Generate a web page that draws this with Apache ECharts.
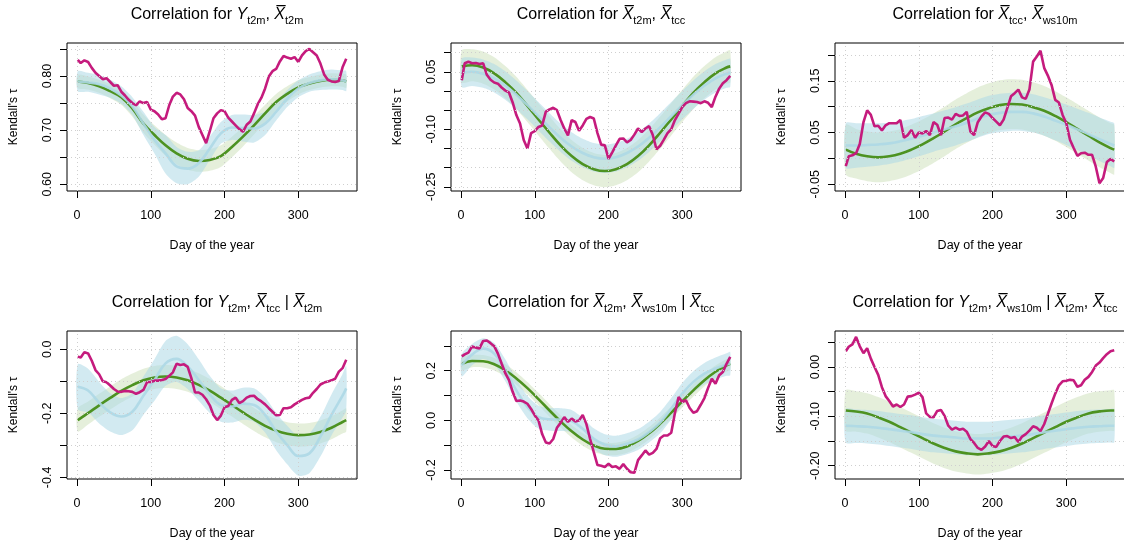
<!DOCTYPE html>
<html lang="en">
<head>
<meta charset="UTF-8">
<title>Kendall's tau over the year</title>
<script src="https://cdn.jsdelivr.net/npm/echarts@6/dist/echarts.min.js"></script>
<style>
html, body { margin: 0; padding: 0; background: #fff; }
#chart { width: 1124px; height: 547px; }
</style>
</head>
<body>
<div id="chart"></div>
<script>
// days where the smooth fits are tabulated
var fitDays = [1, 15, 30, 45, 60, 75, 90, 105, 120, 135, 150, 165, 180, 195, 210, 225, 240, 255, 270, 285, 300, 315, 330, 345, 360, 365];
// days of the empirical (moving window) estimate
var empDays = [1, 5, 10, 15, 20, 25, 30, 35, 40, 45, 50, 55, 60, 65, 70, 75, 80, 85, 90, 95, 100, 105, 110, 115, 120, 125, 130, 135, 140, 145, 150, 155, 160, 165, 170, 175, 180, 185, 190, 195, 200, 205, 210, 215, 220, 225, 230, 235, 240, 245, 250, 255, 260, 265, 270, 275, 280, 285, 290, 295, 300, 305, 310, 315, 320, 325, 330, 335, 340, 345, 350, 355, 360, 365];
var xTicks = [0, 100, 200, 300];

// panel 1: Y_t2m, X_t2m
var emp1 = [0.830, 0.824, 0.829, 0.826, 0.815, 0.806, 0.800, 0.794, 0.796, 0.789, 0.782, 0.783, 0.771, 0.764, 0.756, 0.750, 0.746, 0.753, 0.750, 0.752, 0.738, 0.735, 0.729, 0.720, 0.722, 0.746, 0.762, 0.769, 0.766, 0.757, 0.741, 0.735, 0.727, 0.706, 0.691, 0.676, 0.698, 0.722, 0.731, 0.737, 0.735, 0.723, 0.716, 0.709, 0.702, 0.697, 0.710, 0.716, 0.731, 0.748, 0.760, 0.777, 0.799, 0.809, 0.813, 0.827, 0.837, 0.834, 0.832, 0.835, 0.826, 0.838, 0.846, 0.850, 0.844, 0.838, 0.823, 0.803, 0.793, 0.790, 0.789, 0.791, 0.816, 0.832];
var green1 = [0.790, 0.787, 0.781, 0.772, 0.761, 0.740, 0.712, 0.691, 0.672, 0.657, 0.647, 0.643, 0.645, 0.652, 0.669, 0.688, 0.709, 0.731, 0.752, 0.767, 0.779, 0.786, 0.791, 0.793, 0.792, 0.790];
var greenLo1 = [0.778, 0.775, 0.769, 0.759, 0.747, 0.725, 0.695, 0.673, 0.653, 0.637, 0.627, 0.623, 0.625, 0.632, 0.650, 0.670, 0.692, 0.715, 0.737, 0.753, 0.766, 0.774, 0.779, 0.781, 0.780, 0.778];
var greenHi1 = [0.802, 0.799, 0.793, 0.785, 0.775, 0.755, 0.729, 0.709, 0.691, 0.677, 0.667, 0.663, 0.665, 0.672, 0.688, 0.706, 0.726, 0.747, 0.767, 0.781, 0.792, 0.798, 0.803, 0.805, 0.804, 0.802];
var blue1 = [0.790, 0.788, 0.785, 0.777, 0.764, 0.744, 0.712, 0.682, 0.657, 0.633, 0.629, 0.639, 0.666, 0.694, 0.705, 0.704, 0.703, 0.712, 0.734, 0.758, 0.777, 0.787, 0.792, 0.794, 0.792, 0.790];
var blueLo1 = [0.772, 0.771, 0.766, 0.760, 0.749, 0.728, 0.691, 0.657, 0.620, 0.602, 0.600, 0.614, 0.645, 0.675, 0.682, 0.679, 0.677, 0.691, 0.718, 0.743, 0.761, 0.771, 0.774, 0.775, 0.774, 0.772];
var blueHi1 = [0.809, 0.806, 0.802, 0.793, 0.781, 0.761, 0.734, 0.706, 0.691, 0.669, 0.660, 0.663, 0.688, 0.715, 0.728, 0.729, 0.728, 0.734, 0.752, 0.774, 0.792, 0.803, 0.809, 0.812, 0.810, 0.809];

// panel 2: X_t2m, X_tcc
var emp2 = [0.028, 0.072, 0.076, 0.072, 0.073, 0.070, 0.072, 0.042, 0.029, 0.022, 0.019, 0.009, 0.001, -0.004, -0.030, -0.063, -0.085, -0.128, -0.150, -0.110, -0.105, -0.094, -0.090, -0.054, -0.048, -0.044, -0.050, -0.076, -0.098, -0.116, -0.076, -0.081, -0.104, -0.090, -0.073, -0.068, -0.072, -0.110, -0.140, -0.142, -0.177, -0.160, -0.142, -0.125, -0.124, -0.134, -0.128, -0.114, -0.098, -0.107, -0.098, -0.092, -0.115, -0.152, -0.143, -0.127, -0.110, -0.100, -0.076, -0.059, -0.042, -0.032, -0.027, -0.028, -0.029, -0.032, -0.027, -0.031, -0.042, -0.015, 0.006, 0.020, 0.028, 0.039];
var green2 = [0.064, 0.067, 0.061, 0.046, 0.023, -0.005, -0.039, -0.074, -0.109, -0.142, -0.170, -0.191, -0.204, -0.209, -0.204, -0.191, -0.170, -0.142, -0.109, -0.074, -0.039, -0.005, 0.023, 0.046, 0.061, 0.064];
var greenLo2 = [0.022, 0.025, 0.019, 0.004, -0.019, -0.047, -0.081, -0.116, -0.151, -0.184, -0.212, -0.233, -0.246, -0.251, -0.246, -0.233, -0.212, -0.184, -0.151, -0.116, -0.081, -0.047, -0.019, 0.004, 0.019, 0.022];
var greenHi2 = [0.106, 0.109, 0.103, 0.088, 0.065, 0.037, 0.003, -0.032, -0.067, -0.100, -0.128, -0.149, -0.162, -0.167, -0.162, -0.149, -0.128, -0.100, -0.067, -0.032, 0.003, 0.037, 0.065, 0.088, 0.103, 0.106];
var blue2 = [0.047, 0.050, 0.045, 0.033, 0.014, -0.010, -0.037, -0.066, -0.095, -0.122, -0.145, -0.162, -0.173, -0.177, -0.173, -0.162, -0.145, -0.122, -0.095, -0.066, -0.037, -0.010, 0.014, 0.033, 0.045, 0.047];
var blueLo2 = [0.010, 0.013, 0.008, -0.004, -0.023, -0.047, -0.074, -0.103, -0.132, -0.159, -0.182, -0.199, -0.210, -0.214, -0.210, -0.199, -0.182, -0.159, -0.132, -0.103, -0.074, -0.047, -0.023, -0.004, 0.008, 0.010];
var blueHi2 = [0.084, 0.087, 0.082, 0.070, 0.051, 0.027, 0.000, -0.029, -0.058, -0.085, -0.108, -0.125, -0.136, -0.140, -0.136, -0.125, -0.108, -0.085, -0.058, -0.029, 0.000, 0.027, 0.051, 0.070, 0.082, 0.084];

// panel 3: X_tcc, X_ws10m
var emp3 = [-0.015, 0.004, 0.006, 0.010, 0.028, 0.070, 0.093, 0.084, 0.062, 0.063, 0.054, 0.064, 0.068, 0.068, 0.068, 0.074, 0.040, 0.045, 0.055, 0.040, 0.050, 0.048, 0.053, 0.045, 0.070, 0.065, 0.045, 0.078, 0.079, 0.075, 0.086, 0.082, 0.083, 0.090, 0.052, 0.045, 0.070, 0.081, 0.089, 0.086, 0.078, 0.071, 0.064, 0.075, 0.097, 0.120, 0.126, 0.133, 0.118, 0.115, 0.133, 0.187, 0.197, 0.208, 0.175, 0.160, 0.142, 0.113, 0.108, 0.084, 0.068, 0.036, 0.020, 0.005, 0.010, 0.011, 0.007, 0.007, -0.016, -0.048, -0.038, -0.007, -0.001, -0.006];
var green3 = [0.017, 0.009, 0.004, 0.002, 0.004, 0.009, 0.017, 0.027, 0.039, 0.052, 0.066, 0.078, 0.089, 0.097, 0.103, 0.105, 0.104, 0.099, 0.092, 0.082, 0.070, 0.057, 0.044, 0.031, 0.020, 0.017];
var greenLo3 = [-0.031, -0.039, -0.044, -0.046, -0.044, -0.039, -0.031, -0.021, -0.009, 0.004, 0.018, 0.030, 0.041, 0.049, 0.055, 0.057, 0.056, 0.051, 0.044, 0.034, 0.022, 0.009, -0.004, -0.017, -0.028, -0.031];
var greenHi3 = [0.065, 0.057, 0.052, 0.050, 0.052, 0.057, 0.065, 0.075, 0.087, 0.100, 0.114, 0.126, 0.137, 0.145, 0.151, 0.153, 0.152, 0.147, 0.140, 0.130, 0.118, 0.105, 0.092, 0.079, 0.068, 0.065];
var blue3 = [0.025, 0.025, 0.026, 0.027, 0.029, 0.033, 0.038, 0.044, 0.050, 0.056, 0.062, 0.069, 0.077, 0.084, 0.088, 0.090, 0.090, 0.087, 0.081, 0.073, 0.065, 0.056, 0.047, 0.037, 0.028, 0.025];
var blueLo3 = [-0.018, -0.018, -0.016, -0.014, -0.011, -0.006, 0.000, 0.006, 0.013, 0.019, 0.025, 0.032, 0.040, 0.047, 0.051, 0.053, 0.053, 0.050, 0.044, 0.035, 0.026, 0.016, 0.006, -0.005, -0.015, -0.018];
var blueHi3 = [0.068, 0.068, 0.068, 0.068, 0.069, 0.072, 0.076, 0.082, 0.087, 0.093, 0.099, 0.106, 0.114, 0.121, 0.125, 0.127, 0.127, 0.124, 0.118, 0.111, 0.104, 0.096, 0.088, 0.079, 0.071, 0.068];

// panel 4: Y_t2m, X_tcc | X_t2m
var emp4 = [-0.023, -0.026, -0.009, -0.013, -0.036, -0.065, -0.078, -0.100, -0.103, -0.113, -0.124, -0.132, -0.133, -0.130, -0.131, -0.133, -0.139, -0.134, -0.127, -0.102, -0.102, -0.098, -0.098, -0.096, -0.093, -0.083, -0.072, -0.045, -0.049, -0.047, -0.055, -0.090, -0.135, -0.135, -0.142, -0.156, -0.175, -0.205, -0.221, -0.207, -0.181, -0.177, -0.158, -0.151, -0.168, -0.162, -0.151, -0.146, -0.145, -0.156, -0.163, -0.172, -0.184, -0.195, -0.206, -0.205, -0.184, -0.184, -0.181, -0.172, -0.165, -0.158, -0.153, -0.151, -0.136, -0.124, -0.110, -0.104, -0.101, -0.097, -0.092, -0.070, -0.059, -0.033];
var green4 = [-0.221, -0.199, -0.175, -0.152, -0.130, -0.112, -0.097, -0.088, -0.085, -0.088, -0.097, -0.111, -0.129, -0.151, -0.174, -0.197, -0.219, -0.239, -0.254, -0.264, -0.268, -0.266, -0.258, -0.245, -0.227, -0.221];
var greenLo4 = [-0.257, -0.235, -0.211, -0.188, -0.166, -0.148, -0.133, -0.124, -0.121, -0.124, -0.133, -0.147, -0.165, -0.187, -0.210, -0.233, -0.255, -0.275, -0.290, -0.300, -0.304, -0.302, -0.294, -0.281, -0.263, -0.257];
var greenHi4 = [-0.185, -0.163, -0.139, -0.116, -0.094, -0.076, -0.061, -0.052, -0.049, -0.052, -0.061, -0.075, -0.093, -0.115, -0.138, -0.161, -0.183, -0.203, -0.218, -0.228, -0.232, -0.230, -0.222, -0.209, -0.191, -0.185];
var blue4 = [-0.117, -0.129, -0.167, -0.197, -0.210, -0.195, -0.145, -0.096, -0.044, -0.030, -0.054, -0.096, -0.141, -0.174, -0.179, -0.170, -0.174, -0.205, -0.257, -0.299, -0.333, -0.325, -0.273, -0.205, -0.145, -0.122];
var blueLo4 = [-0.187, -0.197, -0.232, -0.257, -0.268, -0.253, -0.205, -0.161, -0.114, -0.102, -0.124, -0.161, -0.199, -0.226, -0.229, -0.220, -0.226, -0.260, -0.315, -0.359, -0.395, -0.387, -0.335, -0.269, -0.213, -0.192];
var blueHi4 = [-0.047, -0.061, -0.102, -0.137, -0.152, -0.137, -0.085, -0.031, 0.026, 0.042, 0.016, -0.031, -0.083, -0.122, -0.129, -0.120, -0.122, -0.150, -0.199, -0.239, -0.271, -0.263, -0.211, -0.141, -0.077, -0.052];

// panel 5: X_t2m, X_ws10m | X_tcc
var emp5 = [0.258, 0.266, 0.273, 0.298, 0.293, 0.290, 0.320, 0.322, 0.311, 0.299, 0.269, 0.229, 0.190, 0.162, 0.115, 0.078, 0.080, 0.076, 0.067, 0.046, 0.020, 0.000, -0.055, -0.089, -0.093, -0.075, -0.030, -0.010, 0.013, -0.006, 0.007, -0.004, 0.000, 0.022, -0.015, -0.075, -0.128, -0.180, -0.183, -0.188, -0.175, -0.188, -0.185, -0.195, -0.176, -0.195, -0.209, -0.211, -0.160, -0.141, -0.121, -0.138, -0.131, -0.115, -0.072, -0.061, -0.061, -0.050, 0.030, 0.094, 0.074, 0.081, 0.050, 0.031, 0.037, 0.063, 0.090, 0.131, 0.168, 0.148, 0.182, 0.195, 0.228, 0.256];
var green5 = [0.228, 0.239, 0.238, 0.226, 0.202, 0.169, 0.130, 0.086, 0.040, -0.004, -0.044, -0.077, -0.101, -0.114, -0.115, -0.105, -0.083, -0.052, -0.013, 0.031, 0.077, 0.121, 0.162, 0.196, 0.222, 0.228];
var greenLo5 = [0.203, 0.214, 0.213, 0.201, 0.177, 0.144, 0.105, 0.061, 0.015, -0.029, -0.069, -0.102, -0.126, -0.139, -0.140, -0.130, -0.108, -0.077, -0.038, 0.006, 0.052, 0.096, 0.137, 0.171, 0.197, 0.203];
var greenHi5 = [0.253, 0.264, 0.263, 0.251, 0.227, 0.194, 0.155, 0.111, 0.065, 0.021, -0.019, -0.052, -0.076, -0.089, -0.090, -0.080, -0.058, -0.027, 0.012, 0.056, 0.102, 0.146, 0.187, 0.221, 0.247, 0.253];
var blue5 = [0.222, 0.265, 0.289, 0.269, 0.202, 0.121, 0.054, 0.013, 0.004, 0.003, -0.003, -0.034, -0.074, -0.098, -0.104, -0.094, -0.077, -0.047, -0.009, 0.047, 0.108, 0.155, 0.188, 0.209, 0.225, 0.229];
var blueLo5 = [0.177, 0.222, 0.247, 0.226, 0.158, 0.076, 0.009, -0.033, -0.042, -0.043, -0.048, -0.078, -0.116, -0.140, -0.146, -0.136, -0.119, -0.089, -0.052, 0.004, 0.065, 0.112, 0.145, 0.165, 0.180, 0.182];
var blueHi5 = [0.267, 0.308, 0.331, 0.312, 0.246, 0.166, 0.099, 0.059, 0.050, 0.049, 0.042, 0.010, -0.032, -0.056, -0.062, -0.052, -0.035, -0.005, 0.034, 0.090, 0.151, 0.198, 0.231, 0.253, 0.270, 0.276];

// panel 6: Y_t2m, X_ws10m | X_t2m, X_tcc
var emp6 = [0.032, 0.041, 0.046, 0.061, 0.042, 0.028, 0.038, 0.017, 0.000, -0.016, -0.041, -0.059, -0.069, -0.080, -0.076, -0.081, -0.076, -0.060, -0.059, -0.056, -0.052, -0.061, -0.094, -0.101, -0.102, -0.089, -0.087, -0.099, -0.119, -0.127, -0.123, -0.127, -0.125, -0.131, -0.146, -0.154, -0.164, -0.168, -0.161, -0.150, -0.160, -0.162, -0.150, -0.141, -0.140, -0.144, -0.142, -0.152, -0.141, -0.136, -0.129, -0.120, -0.123, -0.130, -0.116, -0.095, -0.074, -0.054, -0.037, -0.029, -0.028, -0.026, -0.027, -0.040, -0.037, -0.026, -0.020, -0.010, 0.003, 0.009, 0.018, 0.026, 0.032, 0.034];
var green6 = [-0.088, -0.090, -0.094, -0.102, -0.111, -0.122, -0.133, -0.144, -0.155, -0.164, -0.171, -0.175, -0.177, -0.175, -0.171, -0.164, -0.155, -0.144, -0.133, -0.122, -0.111, -0.102, -0.094, -0.090, -0.088, -0.088];
var greenLo6 = [-0.129, -0.131, -0.135, -0.143, -0.152, -0.163, -0.174, -0.185, -0.196, -0.205, -0.212, -0.216, -0.218, -0.216, -0.212, -0.205, -0.196, -0.185, -0.174, -0.163, -0.152, -0.143, -0.135, -0.131, -0.129, -0.129];
var greenHi6 = [-0.047, -0.049, -0.053, -0.061, -0.070, -0.081, -0.092, -0.103, -0.114, -0.123, -0.130, -0.134, -0.136, -0.134, -0.130, -0.123, -0.114, -0.103, -0.092, -0.081, -0.070, -0.061, -0.053, -0.049, -0.047, -0.047];
var blue6 = [-0.119, -0.120, -0.121, -0.123, -0.126, -0.129, -0.132, -0.136, -0.139, -0.141, -0.143, -0.145, -0.145, -0.145, -0.143, -0.141, -0.139, -0.136, -0.132, -0.129, -0.126, -0.123, -0.121, -0.120, -0.119, -0.119];
var blueLo6 = [-0.153, -0.154, -0.155, -0.157, -0.160, -0.163, -0.166, -0.170, -0.173, -0.175, -0.177, -0.179, -0.179, -0.179, -0.177, -0.175, -0.173, -0.170, -0.166, -0.163, -0.160, -0.157, -0.155, -0.154, -0.153, -0.153];
var blueHi6 = [-0.085, -0.086, -0.087, -0.089, -0.092, -0.095, -0.098, -0.102, -0.105, -0.107, -0.109, -0.111, -0.111, -0.111, -0.109, -0.107, -0.105, -0.102, -0.098, -0.095, -0.092, -0.089, -0.087, -0.086, -0.085, -0.085];

// y axis ranges, ticks and labelled ticks per panel
var yMin = [0.5876, -0.261, -0.063, -0.405, -0.236, -0.227];
var yMax = [0.861, 0.125, 0.223, 0.057, 0.360, 0.073];
var yTicks = [
    [0.60, 0.65, 0.70, 0.75, 0.80, 0.85],
    [-0.25, -0.20, -0.15, -0.10, -0.05, 0.00, 0.05, 0.10],
    [-0.05, 0.00, 0.05, 0.10, 0.15, 0.20],
    [-0.4, -0.3, -0.2, -0.1, 0.0],
    [-0.2, -0.1, 0.0, 0.1, 0.2, 0.3],
    [-0.20, -0.15, -0.10, -0.05, 0.00, 0.05]
];
var yLabels = [
    [0.60, 0.70, 0.80],
    [-0.25, -0.10, 0.05],
    [-0.05, 0.05, 0.15],
    [-0.4, -0.2, 0.0],
    [-0.2, 0.0, 0.2],
    [-0.20, -0.10, 0.00]
];
var yDigits = [2, 2, 2, 1, 1, 2];

var titles = [
    'Correlation for {it|Y}{sub|t2m}, {it|X\u0305}{sub|t2m}',
    'Correlation for {it|X\u0305}{sub|t2m}, {it|X\u0305}{sub|tcc}',
    'Correlation for {it|X\u0305}{sub|tcc}, {it|X\u0305}{sub|ws10m}',
    'Correlation for {it|Y}{sub|t2m}, {it|X\u0305}{sub|tcc} | {it|X\u0305}{sub|t2m}',
    'Correlation for {it|X\u0305}{sub|t2m}, {it|X\u0305}{sub|ws10m} | {it|X\u0305}{sub|tcc}',
    'Correlation for {it|Y}{sub|t2m}, {it|X\u0305}{sub|ws10m} | {it|X\u0305}{sub|t2m}, {it|X\u0305}{sub|tcc}'
];

var panels = [
    {emp: emp1, g: green1, gl: greenLo1, gh: greenHi1, b: blue1, bl: blueLo1, bh: blueHi1},
    {emp: emp2, g: green2, gl: greenLo2, gh: greenHi2, b: blue2, bl: blueLo2, bh: blueHi2},
    {emp: emp3, g: green3, gl: greenLo3, gh: greenHi3, b: blue3, bl: blueLo3, bh: blueHi3},
    {emp: emp4, g: green4, gl: greenLo4, gh: greenHi4, b: blue4, bl: blueLo4, bh: blueHi4},
    {emp: emp5, g: green5, gl: greenLo5, gh: greenHi5, b: blue5, bl: blueLo5, bh: blueHi5},
    {emp: emp6, g: green6, gl: greenLo6, gh: greenHi6, b: blue6, bl: blueLo6, bh: blueHi6}
];

// layout
var FONT = 'Liberation Sans, Arial, Helvetica, sans-serif';
var lefts = [67, 451, 835];
var tops = [43, 331];
var boxW = 290, boxH = 148;

var MAGENTA = '#c51b7d';
var GREEN = '#4d9221';
var BLUE = '#add8e6';
var GREEN_BAND = 'rgba(150, 190, 110, 0.25)';
var BLUE_BAND = 'rgba(173, 216, 230, 0.55)';
var GRID_LINE = '#cfcfcf';

function pairs(xs, ys) {
    return xs.map(function (x, k) { return [x, ys[k]]; });
}

// a filled band between lo and hi, drawn as one polygon through the axis scales
function bandSeries(i, lo, hi, color) {
    return {
        type: 'custom', xAxisIndex: i, yAxisIndex: i, silent: true, animation: false,
        data: fitDays.map(function (d, k) { return [d, lo[k], hi[k]]; }),
        encode: {x: 0, y: [1, 2]},
        renderItem: function (params, api) {
            if (params.dataIndex !== 0) return null;
            var upper = [], lower = [];
            for (var k = 0; k < fitDays.length; k++) {
                upper.push(api.coord([fitDays[k], hi[k]]));
                lower.push(api.coord([fitDays[k], lo[k]]));
            }
            return {
                type: 'polygon',
                shape: {points: upper.concat(lower.reverse()), smooth: 0.25},
                style: {fill: color, stroke: null}
            };
        }
    };
}

var grids = [], xAxes = [], yAxes = [], series = [], titleOpts = [];

panels.forEach(function (p, i) {
    var left = lefts[i % 3], top = tops[Math.floor(i / 3)];
    grids.push({
        left: left, top: top, width: boxW, height: boxH,
        show: true, borderColor: '#000', borderWidth: 1,
        backgroundColor: 'transparent', containLabel: false, outerBoundsMode: 'none'
    });
    titleOpts.push({
        text: titles[i],
        left: left + boxW / 2,
        top: top - 45,
        textAlign: 'center',
        textStyle: {
            fontFamily: FONT, fontSize: 16, fontWeight: 'normal', color: '#000', lineHeight: 23,
            rich: {
                it: {fontFamily: FONT, fontSize: 16, fontStyle: 'italic', color: '#000', lineHeight: 23},
                sub: {fontFamily: FONT, fontSize: 11, color: '#000', lineHeight: 11, verticalAlign: 'bottom'}
            }
        }
    });
    xAxes.push({
        type: 'value', gridIndex: i, min: -13.6, max: 379.6,
        name: 'Day of the year', nameLocation: 'middle', nameGap: 48,
        nameTextStyle: {fontFamily: FONT, fontSize: 12.5, color: '#000'},
        axisLine: {show: false, onZero: false},
        axisTick: {show: true, length: 7, customValues: xTicks, lineStyle: {color: '#000', width: 1}},
        axisLabel: {customValues: xTicks, margin: 18, fontFamily: FONT, fontSize: 12.5, color: '#000'},
        splitLine: {show: false}
    });
    var digits = yDigits[i];
    yAxes.push({
        type: 'value', gridIndex: i, min: yMin[i], max: yMax[i],
        name: "Kendall's \u03c4", nameLocation: 'middle', nameGap: 47,
        nameTextStyle: {fontFamily: FONT, fontSize: 12, color: '#000'},
        axisLine: {show: false, onZero: false},
        axisTick: {show: true, length: 7, customValues: yTicks[i], lineStyle: {color: '#000', width: 1}},
        axisLabel: {
            customValues: yLabels[i], rotate: 90, margin: 13,
            fontFamily: FONT, fontSize: 12.5, color: '#000',
            formatter: function (v) { return Number(v).toFixed(digits); }
        },
        splitLine: {show: false}
    });

    // dotted reference grid at every tick, carried by an invisible copy of the estimate
    series.push({
        type: 'line', xAxisIndex: i, yAxisIndex: i, symbol: 'none', silent: true, animation: false,
        data: pairs(empDays, p.emp), lineStyle: {opacity: 0},
        markLine: {
            silent: true, animation: false, symbol: ['none', 'none'], label: {show: false},
            lineStyle: {color: GRID_LINE, width: 1, type: [1, 3]},
            data: yTicks[i].map(function (v) { return {yAxis: v}; })
                .concat(xTicks.map(function (v) { return {xAxis: v}; }))
        }
    });
    series.push(bandSeries(i, p.gl, p.gh, GREEN_BAND));
    series.push(bandSeries(i, p.bl, p.bh, BLUE_BAND));

    var common = {type: 'line', xAxisIndex: i, yAxisIndex: i, symbol: 'none', silent: true, animation: false};
    series.push(Object.assign({}, common, {
        data: pairs(fitDays, p.g), smooth: 0.4, lineStyle: {color: GREEN, width: 2.6}
    }));
    series.push(Object.assign({}, common, {
        data: pairs(fitDays, p.b), smooth: 0.4, lineStyle: {color: BLUE, width: 2.6, opacity: 0.9}
    }));
    series.push(Object.assign({}, common, {
        data: pairs(empDays, p.emp), lineStyle: {color: MAGENTA, width: 2.6}
    }));
});

var chart = echarts.init(document.getElementById('chart'));
chart.setOption({
    backgroundColor: '#fff',
    animation: false,
    title: titleOpts,
    grid: grids,
    xAxis: xAxes,
    yAxis: yAxes,
    series: series
});
</script>
</body>
</html>
